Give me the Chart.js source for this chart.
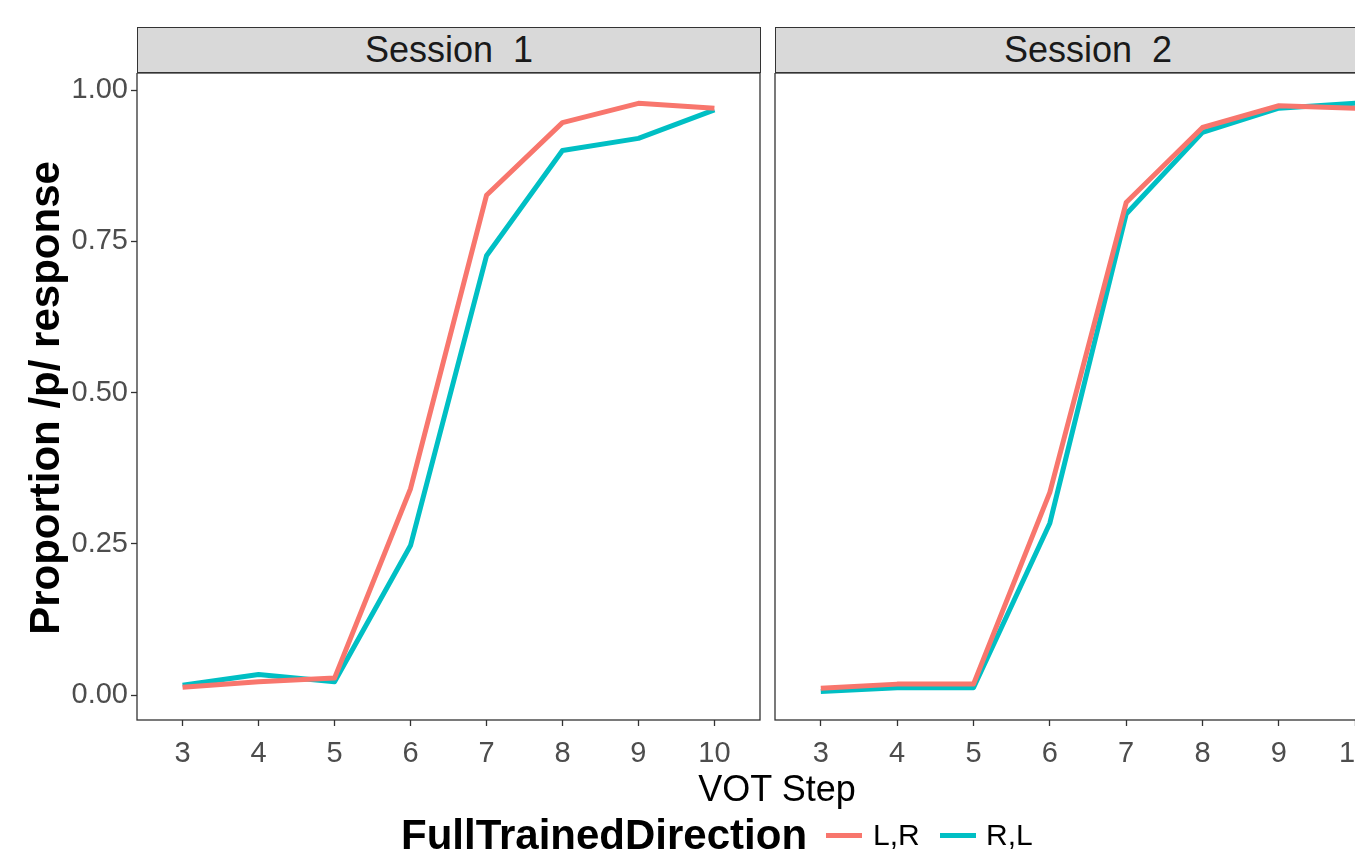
<!DOCTYPE html>
<html>
<head>
<meta charset="utf-8">
<script src="https://cdn.jsdelivr.net/npm/chart.js@4"></script>
<style>
    html, body { margin: 0; padding: 0; background: #fff; overflow: hidden; }
    body { width: 1355px; height: 854px; position: relative; font-family: "Liberation Sans", Arial, sans-serif; }
    canvas { position: absolute; }
    .strip {
        position: absolute; top: 27px; height: 46px; background: #d9d9d9;
        border: 1.3px solid #333; box-sizing: border-box;
        display: flex; align-items: center; justify-content: center;
        font-size: 36px; color: #1a1a1a; white-space: pre;
    }
    .txt { position: absolute; display: flex; align-items: center; white-space: pre; }
    .key { position: absolute; height: 5px; width: 36px; }
</style>
</head>
<body>
<canvas id="panel1"></canvas>
<canvas id="panel2"></canvas>

<div class="strip" style="left:137px; width:624px;">Session  1</div>
<div class="strip" style="left:775px; width:626px;">Session  2</div>

<div class="txt" style="left:-255px; top:368px; width:600px; height:60px; justify-content:center; transform:rotate(-90deg); font-weight:bold; font-size:42px; color:#000;">Proportion /p/ response</div>
<div class="txt" style="left:577px; top:759px; width:400px; height:60px; justify-content:center; font-size:36px; color:#000;">VOT Step</div>

<div class="txt" style="left:401px; top:805px; height:60px; font-weight:bold; font-size:42px; color:#000;">FullTrainedDirection</div>
<div class="key" style="left:826px; top:833px; background:#F8766D;"></div>
<div class="txt" style="left:873px; top:805px; height:60px; font-size:30px; color:#000;">L,R</div>
<div class="key" style="left:940px; top:833px; background:#00BFC4;"></div>
<div class="txt" style="left:986px; top:805px; height:60px; font-size:30px; color:#000;">R,L</div>

<script>
// VOT steps (x categories)
const steps = [3, 4, 5, 6, 7, 8, 9, 10];
const yTicks = [0, 0.25, 0.5, 0.75, 1];

// Session 1
const s1LR = [0.013, 0.022, 0.028, 0.341, 0.826, 0.946, 0.978, 0.970];
const s1RL = [0.016, 0.034, 0.022, 0.247, 0.726, 0.900, 0.920, 0.967];
// Session 2
const s2LR = [0.011, 0.018, 0.018, 0.335, 0.814, 0.938, 0.974, 0.970];
const s2RL = [0.006, 0.012, 0.012, 0.284, 0.795, 0.930, 0.970, 0.978];

const colLR = '#F8766D';
const colRL = '#00BFC4';

document.addEventListener('DOMContentLoaded', function () {
    const tickFont = { family: '"Liberation Sans", Arial, sans-serif', size: 29 };

    // outline the panel like ggplot's theme_bw border
    const panelBorder = {
        id: 'panelBorder',
        afterDraw(chart) {
            const a = chart.chartArea;
            const ctx = chart.ctx;
            ctx.save();
            ctx.strokeStyle = '#333';
            ctx.lineWidth = 1.3;
            ctx.strokeRect(a.left, a.top, a.right - a.left, a.bottom - a.top);
            ctx.restore();
        }
    };

    function toPoints(values) {
        return steps.map((s, i) => ({ x: s, y: values[i] }));
    }

    // no extra room for labels near the edges, the panel box is fixed
    function noPad(s) {
        s.paddingTop = 0;
        s.paddingBottom = 0;
        s.paddingLeft = 0;
        s.paddingRight = 0;
    }

    function makePanel(id, left, width, lr, rl, showY) {
        const canvas = document.getElementById(id);
        canvas.style.left = left + 'px';
        canvas.style.top = '73px';
        canvas.width = width;
        canvas.height = 781;
        canvas.style.width = width + 'px';
        canvas.style.height = '781px';

        return new Chart(canvas.getContext('2d'), {
            type: 'line',
            data: {
                datasets: [
                    { label: 'L,R', data: toPoints(lr), borderColor: colLR, backgroundColor: colLR },
                    { label: 'R,L', data: toPoints(rl), borderColor: colRL, backgroundColor: colRL }
                ]
            },
            options: {
                responsive: false,
                animation: false,
                events: [],
                layout: { padding: { left: 0, right: 2, top: 0, bottom: 0 } },
                elements: {
                    point: { radius: 0 },
                    line: { borderWidth: 5, tension: 0, borderJoinStyle: 'round', fill: false }
                },
                plugins: { legend: { display: false }, tooltip: { enabled: false } },
                scales: {
                    x: {
                        type: 'linear',
                        min: 2.4,
                        max: 10.6,
                        afterBuildTicks: s => { s.ticks = steps.map(v => ({ value: v })); },
                        afterFit: s => { s.height = 781 - 647; noPad(s); },
                        grid: { drawOnChartArea: false, tickLength: 6, tickColor: '#333', tickWidth: 1.3 },
                        border: { display: false },
                        ticks: { font: tickFont, color: '#4d4d4d', padding: 11, maxRotation: 0, autoSkip: false }
                    },
                    y: {
                        min: -0.0413,
                        max: 1.0281,
                        afterBuildTicks: s => { s.ticks = yTicks.map(v => ({ value: v })); },
                        afterFit: s => { s.width = showY ? 137 : 10; noPad(s); },
                        grid: { display: showY, drawOnChartArea: false, tickLength: 6, tickColor: '#333', tickWidth: 1.3 },
                        border: { display: false },
                        ticks: {
                            display: showY,
                            font: tickFont,
                            color: '#4d4d4d',
                            padding: 3,
                            callback: v => Number(v).toFixed(2)
                        }
                    }
                }
            },
            plugins: [panelBorder]
        });
    }

    makePanel('panel1', 0, 762, s1LR, s1RL, true);
    makePanel('panel2', 765, 638, s2LR, s2RL, false);
});
</script>
</body>
</html>
